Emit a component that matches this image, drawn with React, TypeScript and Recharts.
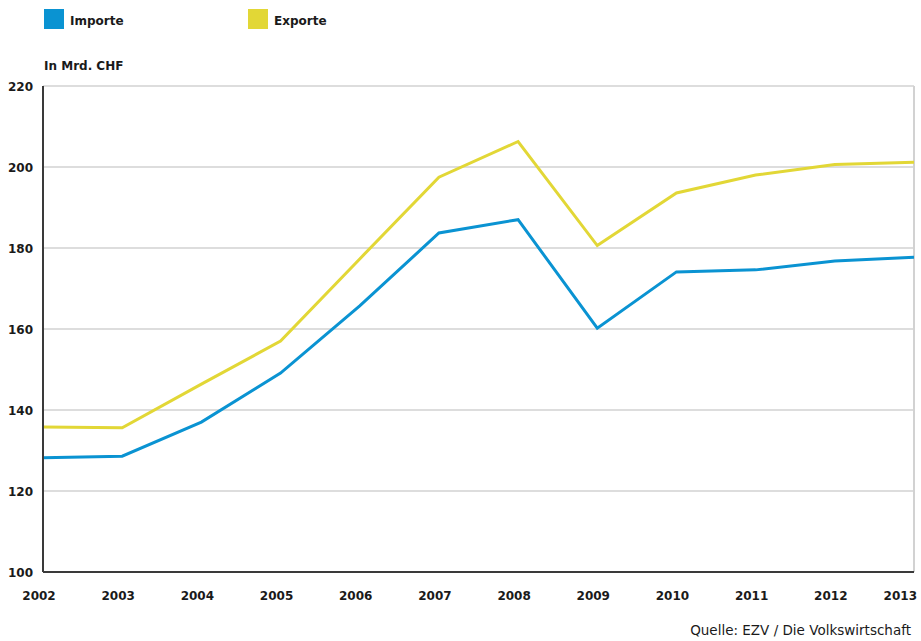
import React from "react";
import { LineChart, Line, XAxis, YAxis, CartesianGrid, ReferenceLine } from "recharts";

const years = ["2002", "2003", "2004", "2005", "2006", "2007", "2008", "2009", "2010", "2011", "2012", "2013"];
const importe = [128.2, 128.6, 137.0, 149.1, 165.7, 183.7, 187.0, 160.2, 174.1, 174.6, 176.8, 177.7];
const exporte = [135.8, 135.6, 146.4, 157.0, 177.3, 197.5, 206.3, 180.6, 193.6, 198.0, 200.6, 201.2];
const yTicks = [100, 120, 140, 160, 180, 200, 220];
const seriesNames = ["Importe", "Exporte"];

const data = years.map((y, i) => ({ year: y, Importe: importe[i], Exporte: exporte[i] }));

const FONT = "'DejaVu Sans', 'Liberation Sans', sans-serif";
const BLUE = "#0a93d2";
const YELLOW = "#e2d736";
const colors: Record<string, string> = { Importe: BLUE, Exporte: YELLOW };

const YTick = (props: any) => {
  const { y, payload } = props;
  return (
    <text x={33} y={y} dy={4.5} textAnchor="end" fontFamily={FONT} fontWeight="bold" fontSize={12} fill="#1a1a1a">
      {payload.value}
    </text>
  );
};

const XTick = (props: any) => {
  const { x, payload, index } = props;
  const last = index === years.length - 1;
  return (
    <text x={last ? 917 : x - 4} y={600} textAnchor={last ? "end" : "middle"} fontFamily={FONT} fontWeight="bold" fontSize={12} fill="#1a1a1a">
      {payload.value}
    </text>
  );
};

export default function App() {
  return (
    <div style={{ position: "absolute", left: 0, top: 0, width: 921, height: 641, background: "#fff", overflow: "hidden" }}>
      {/* legend */}
      {seriesNames.map((name, i) => (
        <div
          key={name}
          style={{
            position: "absolute",
            left: 44 + i * 204,
            top: 9,
            height: 20,
            display: "flex",
            alignItems: "center",
            fontFamily: FONT,
            fontWeight: "bold",
            fontSize: 12,
            color: "#1a1a1a",
          }}
        >
          <span style={{ display: "inline-block", width: 20, height: 20, background: colors[name], marginRight: 6 }} />
          <span style={{ position: "relative", top: 1.5 }}>{name}</span>
        </div>
      ))}
      <div style={{ position: "absolute", left: 44, top: 59, fontFamily: FONT, fontWeight: "bold", fontSize: 12, color: "#1a1a1a" }}>
        In Mrd. CHF
      </div>
      <LineChart width={921} height={641} data={data} margin={{ top: 86, right: 7, bottom: 39, left: 0 }}>
        <CartesianGrid vertical={false} stroke="#d2d2d2" strokeWidth={1.5} />
        <ReferenceLine x="2013" stroke="#d2d2d2" strokeWidth={2} />
        <XAxis
          dataKey="year"
          height={30}
          tickLine={false}
          axisLine={{ stroke: "#3a3a3a", strokeWidth: 2 }}
          tick={<XTick />}
          interval={0}
        />
        <YAxis
          width={43}
          domain={[100, 220]}
          ticks={yTicks}
          tickLine={false}
          axisLine={{ stroke: "#3a3a3a", strokeWidth: 2 }}
          tick={<YTick />}
          interval={0}
        />
        <Line type="linear" dataKey="Exporte" stroke={YELLOW} strokeWidth={3} dot={false} isAnimationActive={false} />
        <Line type="linear" dataKey="Importe" stroke={BLUE} strokeWidth={3} dot={false} isAnimationActive={false} />
      </LineChart>
      <div style={{ position: "absolute", right: 10, top: 622, fontFamily: FONT, fontSize: 13.5, color: "#1a1a1a" }}>
        Quelle: EZV / Die Volkswirtschaft
      </div>
    </div>
  );
}
